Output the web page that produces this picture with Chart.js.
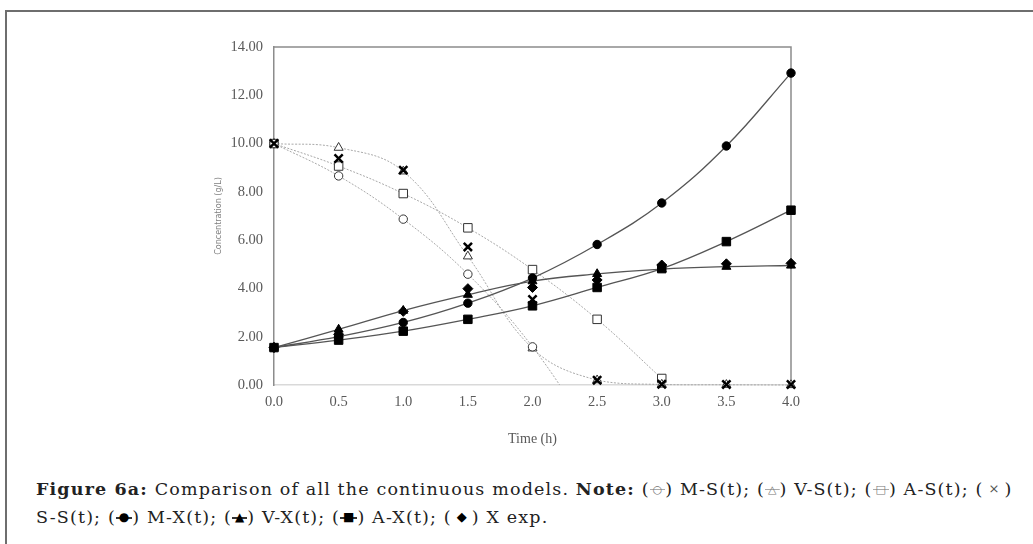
<!DOCTYPE html>
<html>
<head>
<meta charset="utf-8">
<script src="https://cdn.jsdelivr.net/npm/chart.js@4.4.1/dist/chart.umd.min.js"></script>
<style>
    body { margin: 0; background: #fff; width: 1033px; height: 544px; overflow: hidden; position: relative; }
    #frame { position: absolute; left: 5px; top: 10px; width: 1040px; height: 560px; border-top: 2px solid #6e6e6e; border-left: 2px solid #6e6e6e; }
    #box { position: absolute; left: 214px; top: 30px; width: 587px; height: 440px; }
    #caption { position: absolute; left: 36px; top: 475px; font-family: "DejaVu Serif", serif; font-size: 17.5px; line-height: 27px; color: #222; white-space: nowrap; letter-spacing: 1.15px; }
    #caption b { font-weight: bold; }
    .sym { display: inline-block; padding: 0 3px; font-size: 11px; vertical-align: 2px; color: #777; letter-spacing: 0;
        background: linear-gradient(#aaa, #aaa) no-repeat center / 100% 1px; }
    .sym.solid { color: #000; font-size: 12px; background: linear-gradient(#333, #333) no-repeat center / 100% 2px; }
    .sym.none { background: none; color: #555; font-size: 13px; padding: 0 5px; }
</style>
</head>
<body>
<div id="frame"></div>
<div id="box"><canvas id="Chart1"></canvas></div>
<div id="caption">
    <b>Figure 6a:</b> Comparison of all the continuous models. <b>Note:</b> (<span class="sym">○</span>) M-S(t); (<span class="sym">△</span>) V-S(t); (<span class="sym">□</span>) A-S(t); (<span class="sym none">×</span>)<br>
    S-S(t); (<span class="sym solid">●</span>) M-X(t); (<span class="sym solid">▲</span>) V-X(t); (<span class="sym solid">■</span>) A-X(t); (<span class="sym none" style="color:#000">◆</span>) X exp.
</div>
<script>
const times = [0, 0.5, 1.0, 1.5, 2.0, 2.5, 3.0, 3.5, 4.0];
const msS = [10, 8.66, 6.87, 4.59, 1.58, -2.4, null, null, null];
const vsS = [10, 9.83, 8.85, 5.33, 1.52, 0.2, 0.02, 0.01, 0.0];
const asS = [10, 9.07, 7.93, 6.51, 4.78, 2.72, 0.27, null, null];
const ssS = [10, 9.38, 8.9, 5.72, 3.54, 0.2, 0.03, 0.02, 0.02];
const mX = [1.55, 2.0, 2.59, 3.39, 4.43, 5.82, 7.54, 9.9, 12.92];
const vX = [1.55, 2.3, 3.08, 3.74, 4.3, 4.6, 4.8, 4.9, 4.95];
const aX = [1.55, 1.86, 2.23, 2.72, 3.28, 4.04, 4.82, 5.94, 7.24];
const xExp = [1.55, 2.1, 3.05, 3.99, 4.04, 4.35, 4.97, 5.02, 5.04];

const markerRadius = {circle: 4.2, triangle: 5.2, rect: 6, rectRot: 5, crossRot: 5.8};

function pts(vals) {
    return times.map((t, i) => ({x: t, y: vals[i]}));
}

const frameLines = {
    id: 'frameLines',
    beforeDatasetsDraw(chart) {
        const a = chart.chartArea;
        const ctx = chart.ctx;
        ctx.save();
        ctx.strokeStyle = '#8c8c8c';
        ctx.lineWidth = 1.5;
        ctx.beginPath();
        ctx.moveTo(a.left, a.top);
        ctx.lineTo(a.right, a.top);
        ctx.lineTo(a.right, a.bottom);
        ctx.stroke();
        ctx.restore();
    }
};

function sLine(label, vals, style, extra) {
    return Object.assign({
        label: label,
        data: pts(vals),
        showLine: true,
        clip: false,
        borderColor: '#a8a8a8',
        borderWidth: 1,
        borderDash: [2, 1.5],
        tension: 0.4,
        pointStyle: style,
        pointRadius: markerRadius[style],
        pointBackgroundColor: '#fff',
        pointBorderColor: '#333',
        pointBorderWidth: 1
    }, extra || {});
}

function xLine(label, vals, style) {
    return {
        label: label,
        data: pts(vals),
        showLine: true,
        clip: false,
        borderColor: '#555',
        borderWidth: 1.3,
        tension: 0.4,
        pointStyle: style,
        pointRadius: markerRadius[style],
        pointBackgroundColor: '#000',
        pointBorderColor: '#000',
        pointBorderWidth: 1
    };
}

const ctx = document.getElementById('Chart1').getContext('2d');
new Chart(ctx, {
    type: 'scatter',
    data: {
        datasets: [
            {
                label: 'S-S(t)',
                data: pts(ssS),
                showLine: false,
                clip: false,
                pointStyle: 'crossRot',
                pointRadius: markerRadius.crossRot,
                pointBorderColor: '#000',
                pointBorderWidth: 2.5
            },
            xLine('A-X(t)', aX, 'rect'),
            xLine('M-X(t)', mX, 'circle'),
            xLine('V-X(t)', vX, 'triangle'),
            {
                label: 'X exp',
                data: pts(xExp),
                showLine: false,
                clip: false,
                pointStyle: 'rectRot',
                pointRadius: markerRadius.rectRot,
                pointBackgroundColor: '#000',
                pointBorderColor: '#000'
            },
            sLine('M-S(t)', msS, 'circle', {clip: {left: 10, top: 10, right: 10, bottom: 0}}),
            sLine('V-S(t)', vsS, 'triangle'),
            sLine('A-S(t)', asS, 'rect')
        ]
    },
    options: {
        responsive: true,
        maintainAspectRatio: false,
        animation: false,
        layout: {padding: {top: 17, right: 10, left: 0, bottom: 0}},
        plugins: {
            legend: {display: false},
            tooltip: {enabled: false}
        },
        scales: {
            x: {
                type: 'linear',
                min: 0,
                max: 4,
                afterFit: function (scale) { scale.height = 85; },
                ticks: {
                    stepSize: 0.5,
                    color: '#595959',
                    font: {family: 'Liberation Serif', size: 14.5},
                    padding: 0,
                    callback: v => v.toFixed(1)
                },
                grid: {display: false},
                border: {color: '#d9d9d9', width: 1.5},
                title: {
                    display: true,
                    text: 'Time (h)',
                    color: '#595959',
                    font: {family: 'Liberation Serif', size: 14},
                    padding: {top: 0, bottom: 22}
                }
            },
            y: {
                min: 0,
                max: 14,
                afterFit: function (scale) { scale.width = 60; },
                ticks: {
                    stepSize: 2,
                    color: '#595959',
                    font: {family: 'Liberation Serif', size: 14.5},
                    padding: 3,
                    callback: v => v.toFixed(2)
                },
                grid: {display: false},
                border: {color: '#8c8c8c', width: 1.5},
                title: {
                    display: true,
                    text: 'Concentration (g/L)',
                    color: '#7f7f7f',
                    font: {family: 'DejaVu Sans', size: 8},
                    padding: {top: 0, bottom: 0}
                }
            }
        }
    },
    plugins: [frameLines]
});
</script>
</body>
</html>
